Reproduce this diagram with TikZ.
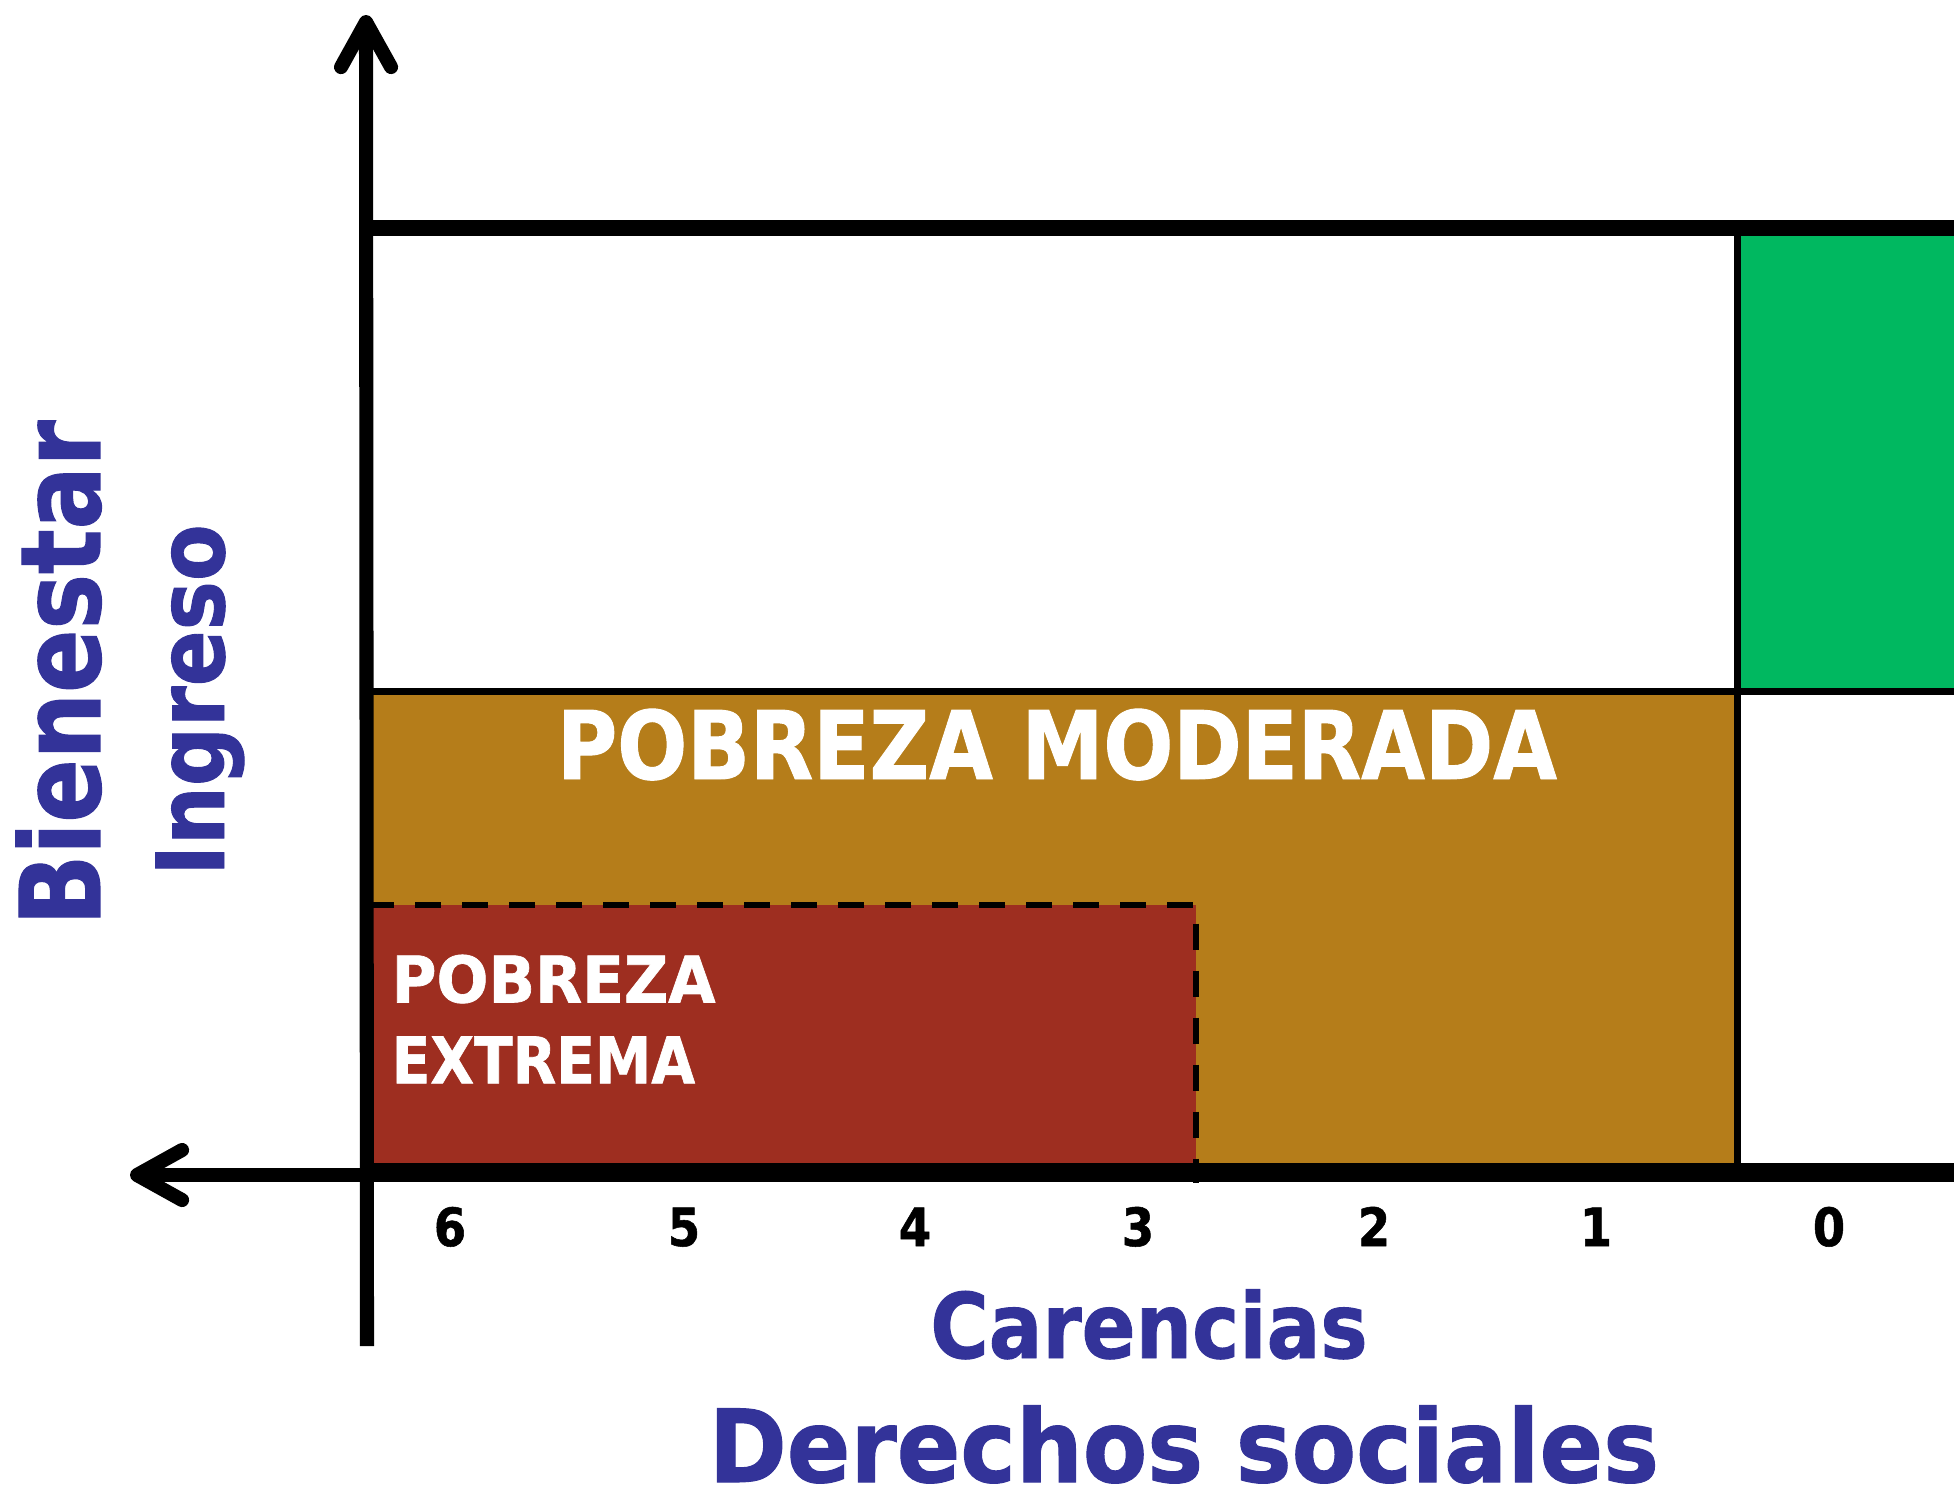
\documentclass[tikz,border=0pt]{standalone}
\usepackage{fontspec}
\setmainfont{DejaVu Sans}[FakeStretch=0.88,BoldFeatures={FakeBold=1}]
\newfontfamily\anchafont{DejaVu Sans}[FakeStretch=0.95,BoldFeatures={FakeBold=1}]
\newfontfamily\mediafont{DejaVu Sans}[FakeStretch=0.93,BoldFeatures={FakeBold=1}]
\newfontfamily\estrechafont{DejaVu Sans}[FakeStretch=0.84,BoldFeatures={FakeBold=1}]
\newfontfamily\modfont{DejaVu Sans}[FakeStretch=0.87,BoldFeatures={FakeBold=1}]
\usetikzlibrary{arrows.meta}
\definecolor{pobrezamod}{RGB}{181,125,26}
\definecolor{pobrezaext}{RGB}{158,46,32}
\definecolor{verdebien}{RGB}{0,184,96}
\definecolor{azultitulo}{RGB}{51,51,153}

\begin{document}
\begin{tikzpicture}[x=0.01cm,y=-0.01cm,
  eje/.style={line width=4pt,-{Straight Barb[length=0.45cm,width=0.5cm,round]}},
  titulo/.style={inner sep=0pt,text=azultitulo,font=\bfseries\fontsize{#1}{#1}\selectfont},
  zona/.style={inner sep=0pt,text=white,font=\bfseries\fontsize{#1}{23}\selectfont},
  numero/.style={inner sep=0pt,anchor=base,font=\bfseries\fontsize{15}{15}\selectfont}]
\useasboundingbox (0,0) rectangle (1954,1496);

%Flaechen
\fill[verdebien] (1737,228) rectangle (1954,691);
\fill[pobrezamod] (368,691) rectangle (1737,1168);
\fill[pobrezaext] (368,905) rectangle (1196,1168);

%Linien im Kasten
\draw[line width=2pt] (368,691) -- (1954,691);
\draw[line width=2pt] (1737,228) -- (1737,1168);
\draw[line width=4.8pt] (362,228) -- (1954,228);
\draw[line width=2pt] (368,1166) -- (1954,1166);
\draw[line width=1.7pt, dash pattern=on 0.26cm off 0.21cm] (368,905) -- (1196,905) -- (1196,1183);

%Achsen
\coordinate (abajo) at (367,1346);
\coordinate (arriba) at (366,15);
\coordinate (derecha) at (1954,1175);
\coordinate (izquierda) at (130,1175);
\draw[eje] (abajo) -- (arriba);
\draw[eje] (derecha) -- (izquierda);

%Beschriftung
\node[zona=26.9, anchor=base] (moderada) at (1057,779) {\modfont POBREZA MODERADA};
\node[zona=18.3, anchor=north west, align=left] (extrema) at (391,954) {\anchafont POBREZA\\EXTREMA};

\foreach \n/\x in {6/450,5/684,4/915,3/1138,2/1374,1/1596,0/1829}
  \node[numero] (n\n) at (\x,1246) {\n};

\node[titulo=25.7, anchor=base] (carencias) at (1149,1358) {Carencias};
\node[titulo=28.7, anchor=base] (derechos) at (1184,1482) {\mediafont Derechos sociales};
\node[titulo=31.6, anchor=base, rotate=90] (bienestar) at (100,673) {\estrechafont Bienestar};
\node[titulo=26.7, anchor=base, rotate=90] (ingreso) at (224,700) {Ingreso};

\end{tikzpicture}
\end{document}
